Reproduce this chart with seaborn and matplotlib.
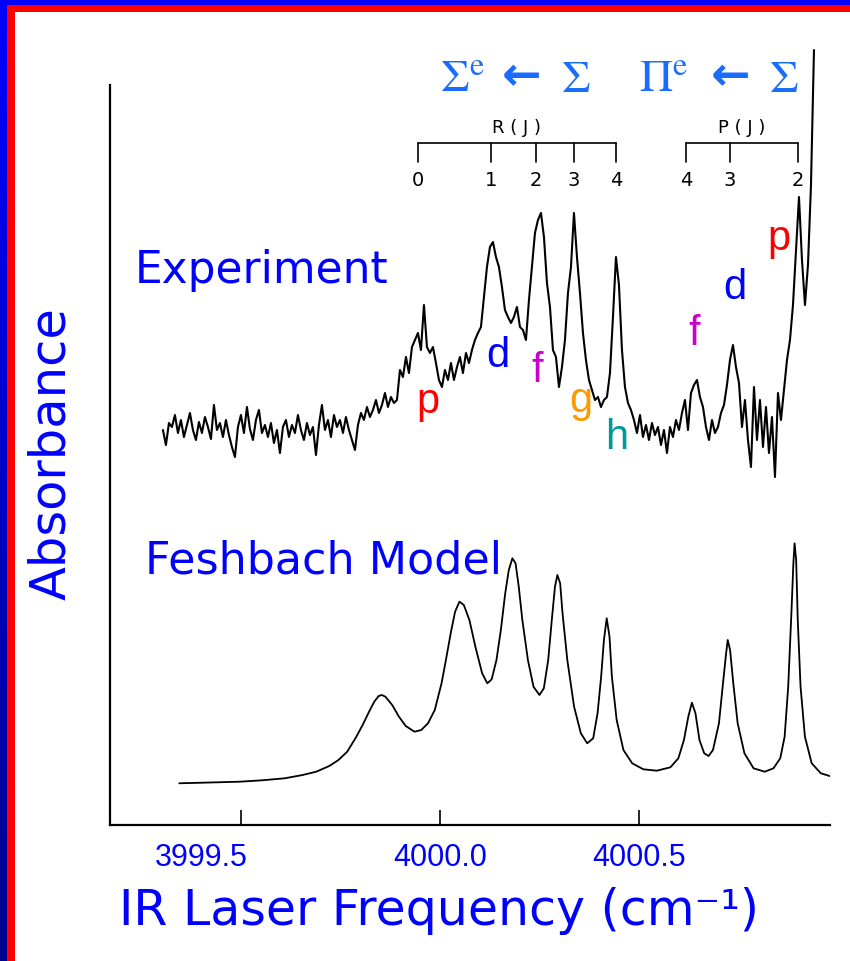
import numpy as np
import pandas as pd
import matplotlib
matplotlib.use("Agg")
import matplotlib.pyplot as plt
import seaborn as sns
from matplotlib.patches import Rectangle
from matplotlib.transforms import ScaledTranslation

# ---------------- data ----------------
# Feshbach model spectrum: frequency (cm^-1) and absorbance (arb. units)
MODEL_FREQ = [3999.345, 3999.441, 3999.497, 3999.553, 3999.610, 3999.655, 3999.689,
              3999.722, 3999.745, 3999.767, 3999.790, 3999.807, 3999.824, 3999.835,
              3999.846, 3999.854, 3999.863, 3999.880, 3999.897, 3999.914, 3999.936,
              3999.953, 3999.970, 3999.987, 4000.004, 4000.015, 4000.027, 4000.038,
              4000.049, 4000.060, 4000.074, 4000.089, 4000.106, 4000.119, 4000.130,
              4000.142, 4000.153, 4000.164, 4000.173, 4000.182, 4000.190, 4000.198,
              4000.207, 4000.221, 4000.235, 4000.250, 4000.261, 4000.272, 4000.281,
              4000.289, 4000.295, 4000.302, 4000.308, 4000.320, 4000.337, 4000.354,
              4000.370, 4000.385, 4000.396, 4000.405, 4000.412, 4000.419, 4000.426,
              4000.432, 4000.444, 4000.461, 4000.483, 4000.511, 4000.545, 4000.579,
              4000.599, 4000.613, 4000.624, 4000.633, 4000.642, 4000.652, 4000.664,
              4000.675, 4000.686, 4000.701, 4000.712, 4000.719, 4000.723, 4000.729,
              4000.737, 4000.748, 4000.765, 4000.788, 4000.816, 4000.838, 4000.855,
              4000.866, 4000.875, 4000.883, 4000.888, 4000.891, 4000.895, 4000.899,
              4000.906, 4000.917, 4000.934, 4000.957, 4000.985]
MODEL_ABS = [41.7, 42.7, 43.3, 44.7, 46.7, 50.0, 53.3,
             59.0, 65.0, 73.3, 88.3, 101.0, 115.0, 123.3,
             129.0, 130.0, 128.3, 120.0, 108.3, 99.0, 93.3,
             95.0, 101.7, 115.0, 141.7, 165.0, 191.7, 213.3,
             223.3, 220.0, 205.0, 178.3, 151.7, 141.7, 145.7,
             165.0, 195.0, 231.7, 255.0, 266.7, 261.7, 238.3,
             205.0, 165.0, 138.3, 130.0, 136.7, 165.0, 205.0,
             238.3, 250.0, 241.7, 211.7, 165.0, 118.3, 91.7,
             81.7, 86.7, 111.7, 148.3, 185.0, 206.7, 188.3,
             148.3, 105.0, 75.0, 61.7, 55.7, 54.3, 57.7,
             66.7, 85.0, 108.3, 122.3, 111.7, 85.0, 71.7,
             69.0, 75.0, 101.7, 145.0, 171.7, 185.0, 175.0,
             141.7, 101.7, 71.7, 56.7, 53.3, 56.7, 66.7,
             88.3, 138.3, 211.7, 261.7, 281.7, 265.0, 205.0,
             138.3, 88.3, 61.7, 51.7, 48.3]

# Experimental spectrum: uniformly sampled, absorbance (arb. units)
EXP_FREQ_START = 3999.304
EXP_FREQ_STEP = 0.007538
EXP_ABS = [395, 380, 402, 398, 410, 392, 405, 388, 400, 412,
           395, 385, 403, 392, 408, 398, 386, 420, 395, 402,
           388, 405, 390, 378, 368, 398, 410, 392, 418, 396,
           385, 405, 415, 392, 400, 388, 402, 382, 395, 372,
           398, 405, 388, 400, 392, 410, 395, 385, 402, 390,
           398, 370, 400, 420, 395, 405, 388, 410, 398, 405,
           392, 408, 395, 385, 375, 400, 412, 405, 418, 408,
           415, 425, 412, 420, 432, 418, 428, 422,
           425, 455, 448, 468, 452, 478, 485, 492, 475, 520,
           478, 472, 478, 462, 445, 438, 455, 445, 462, 445,
           458, 468, 452, 472, 462, 475, 485, 492, 498, 528,
           558, 578, 583, 568, 558, 538, 515, 508, 502, 508,
           518, 498, 495, 485, 525, 558, 592, 605, 612, 588,
           542, 518, 475, 468, 438, 458, 485, 532, 558, 612,
           568, 532, 492, 465, 445, 435, 425, 428, 418, 425,
           428, 452, 508, 568, 540, 475, 438, 422, 415,
           405, 392, 410, 388, 400, 385, 402, 390, 398, 380,
           395, 372, 398, 388, 405, 395,
           412, 425, 395, 432, 440, 445, 428, 418, 398, 385,
           405, 392, 398, 412, 420, 440, 465, 480, 458, 442,
           398, 425, 385, 358, 438, 385, 425, 378, 418, 372,
           408, 348, 432, 405, 435, 465, 485, 520, 575, 628,
           565, 520, 560, 640, 775]

X_TICKS = [3999.5, 4000.0, 4000.5]
X_TICK_LABELS = ["3999.5", "4000.0", "4000.5"]

R_BRANCH_J = ["0", "1", "2", "3", "4"]
R_BRANCH_FREQ = [3999.945, 4000.128, 4000.241, 4000.337, 4000.442]
P_BRANCH_J = ["4", "3", "2"]
P_BRANCH_FREQ = [4000.618, 4000.729, 4000.899]

PEAK_TAGS = ["p", "d", "f", "g", "h", "f", "d", "p"]
PEAK_TAG_FREQ = [3999.970, 4000.146, 4000.244, 4000.354, 4000.445,
                 4000.638, 4000.741, 4000.852]
PEAK_TAG_ABS = [412, 458, 443, 413, 376, 480, 526, 575]
PEAK_TAG_COLORS = ["#ff0000", "#0000ff", "#cc00cc", "#ff9900", "#009999",
                   "#cc00cc", "#0000ff", "#ff0000"]

# ---------------- figure ----------------
sns.set_theme(style="white")
plt.rcParams["font.family"] = ["DejaVu Sans"]
plt.rcParams["mathtext.fontset"] = "dejavusans"

W, H = 850, 961
BLUE = "#0000ff"
SIGMA_BLUE = "#1a6cff"

fig = plt.figure(figsize=(W / 100, H / 100), dpi=100)
fig.patch.set_facecolor("white")


def fx(px):
    return px / W


def fy(py):
    return 1 - py / H


ax = fig.add_axes([fx(110), fy(825), (830 - 110) / W, (825 - 40) / H])
ax.set_facecolor("white")

exp_df = pd.DataFrame({
    "freq": EXP_FREQ_START + EXP_FREQ_STEP * np.arange(len(EXP_ABS)),
    "absorbance": EXP_ABS,
})
model_df = pd.DataFrame({"freq": MODEL_FREQ, "absorbance": MODEL_ABS})

sns.lineplot(data=exp_df, x="freq", y="absorbance", ax=ax, color="black",
             lw=1.5, estimator=None, sort=False)
sns.lineplot(data=model_df, x="freq", y="absorbance", ax=ax, color="black",
             lw=1.3, estimator=None, sort=False)

ax.set_xlim(3999.171, 4000.980)
ax.set_ylim(0, 785)

for s in ["top", "right"]:
    ax.spines[s].set_visible(False)
for s in ["left", "bottom"]:
    ax.spines[s].set_color("black")
    ax.spines[s].set_linewidth(1.6)
ax.spines["left"].set_bounds(0, 740)

ax.set_yticks([])
ax.set_xticks(X_TICKS, X_TICK_LABELS)
ax.tick_params(axis="x", direction="in", length=11, width=1.2, color="black",
               pad=13, labelsize=22, labelcolor=BLUE, bottom=True)
for lbl in ax.get_xticklabels():
    lbl.set_fontfamily(["Liberation Sans Narrow", "Liberation Sans"])
ax.get_xticklabels()[0].set_transform(
    ax.get_xticklabels()[0].get_transform()
    + ScaledTranslation(-0.40, 0, fig.dpi_scale_trans))

# axis labels
ax.set_xlabel("IR Laser Frequency (cm\u207b\u00b9)", color=BLUE, fontsize=34)
ax.xaxis.label.set_va("baseline")
ax.xaxis.set_label_coords((439 - 110) / 720, (825 - 925) / 785)
ax.set_ylabel("Absorbance", color=BLUE, fontsize=30)
ax.yaxis.label.set_va("center")
ax.yaxis.set_label_coords((51 - 110) / 720, (825 - 454) / 785)

# panel titles
exp_t = fig.text(fx(135), fy(283), "Experiment", ha="left", va="baseline",
                 color=BLUE, fontsize=30)
fes_t = fig.text(fx(145), fy(573), "Feshbach Model", ha="left", va="baseline",
                 color=BLUE, fontsize=30)

# peak tags
for tag, f, a, c in zip(PEAK_TAGS, PEAK_TAG_FREQ, PEAK_TAG_ABS, PEAK_TAG_COLORS):
    ax.text(f, a, tag, color=c, fontsize=30, ha="center", va="baseline",
            fontfamily=["Liberation Sans", "DejaVu Sans"])

# R(J) and P(J) brackets
BR_TOP, BR_BOT, BR_LAB, BR_TITLE = 682, 663, 645, 697
for freqs, labels, title in [(R_BRANCH_FREQ, R_BRANCH_J, "R ( J )"),
                             (P_BRANCH_FREQ, P_BRANCH_J, "P ( J )")]:
    ax.plot([freqs[0], freqs[-1]], [BR_TOP, BR_TOP], color="black", lw=1.2)
    for f, l in zip(freqs, labels):
        ax.plot([f, f], [BR_TOP, BR_BOT], color="black", lw=1.2)
        ax.text(f, BR_LAB, l, ha="center", va="center", fontsize=14,
                color="black")
    ax.text((freqs[0] + freqs[-1]) / 2, BR_TITLE, title, ha="center",
            va="center", fontsize=13, color="black")

# transition labels
for x0, sym in [(440, r"$\Sigma^{\rm e}$"), (639, r"$\Pi^{\rm e}$")]:
    fig.text(fx(x0), fy(92), sym, ha="left", va="baseline", fontsize=33,
             color=SIGMA_BLUE, math_fontfamily="stix")
for x0 in [502, 711]:
    fig.text(fx(x0), fy(90), "\u2190", ha="left", va="baseline", fontsize=34,
             color=SIGMA_BLUE, fontweight="bold", fontfamily="DejaVu Sans")
for x0 in [561, 769]:
    fig.text(fx(x0), fy(92), r"$\Sigma$", ha="left", va="baseline", fontsize=33,
             color=SIGMA_BLUE, math_fontfamily="stix")

# fit text widths
fig.canvas.draw()
rend = fig.canvas.get_renderer()


def fit(t, target, vertical=False):
    bb = t.get_window_extent(rend)
    cur = bb.height if vertical else bb.width
    t.set_fontsize(t.get_fontsize() * target / cur)


fit(exp_t, 253)
fit(fes_t, 357)
fit(ax.xaxis.label, 640)
fit(ax.yaxis.label, 292, vertical=True)

# frame borders
grad_ax = fig.add_axes([0, 0, fx(7), 1])
grad = np.linspace(0, 1, 256).reshape(-1, 1)
cm = matplotlib.colors.LinearSegmentedColormap.from_list(
    "b", ["#00008c", "#0000ff"])
grad_ax.imshow(grad, aspect="auto", cmap=cm, origin="lower",
               extent=[0, 1, 0, 1])
grad_ax.set_axis_off()
fig.add_artist(Rectangle((0, fy(5)), 1, 5 / H, transform=fig.transFigure,
                         facecolor="#0000ff", edgecolor="none"))
fig.add_artist(Rectangle((fx(7), 0), 8 / W, fy(5), transform=fig.transFigure,
                         facecolor="#ff0000", edgecolor="none"))
fig.add_artist(Rectangle((fx(7), fy(12)), 1 - fx(7), 7 / H,
                         transform=fig.transFigure, facecolor="#ff0000",
                         edgecolor="none"))

fig.savefig("out.png", dpi=100)
